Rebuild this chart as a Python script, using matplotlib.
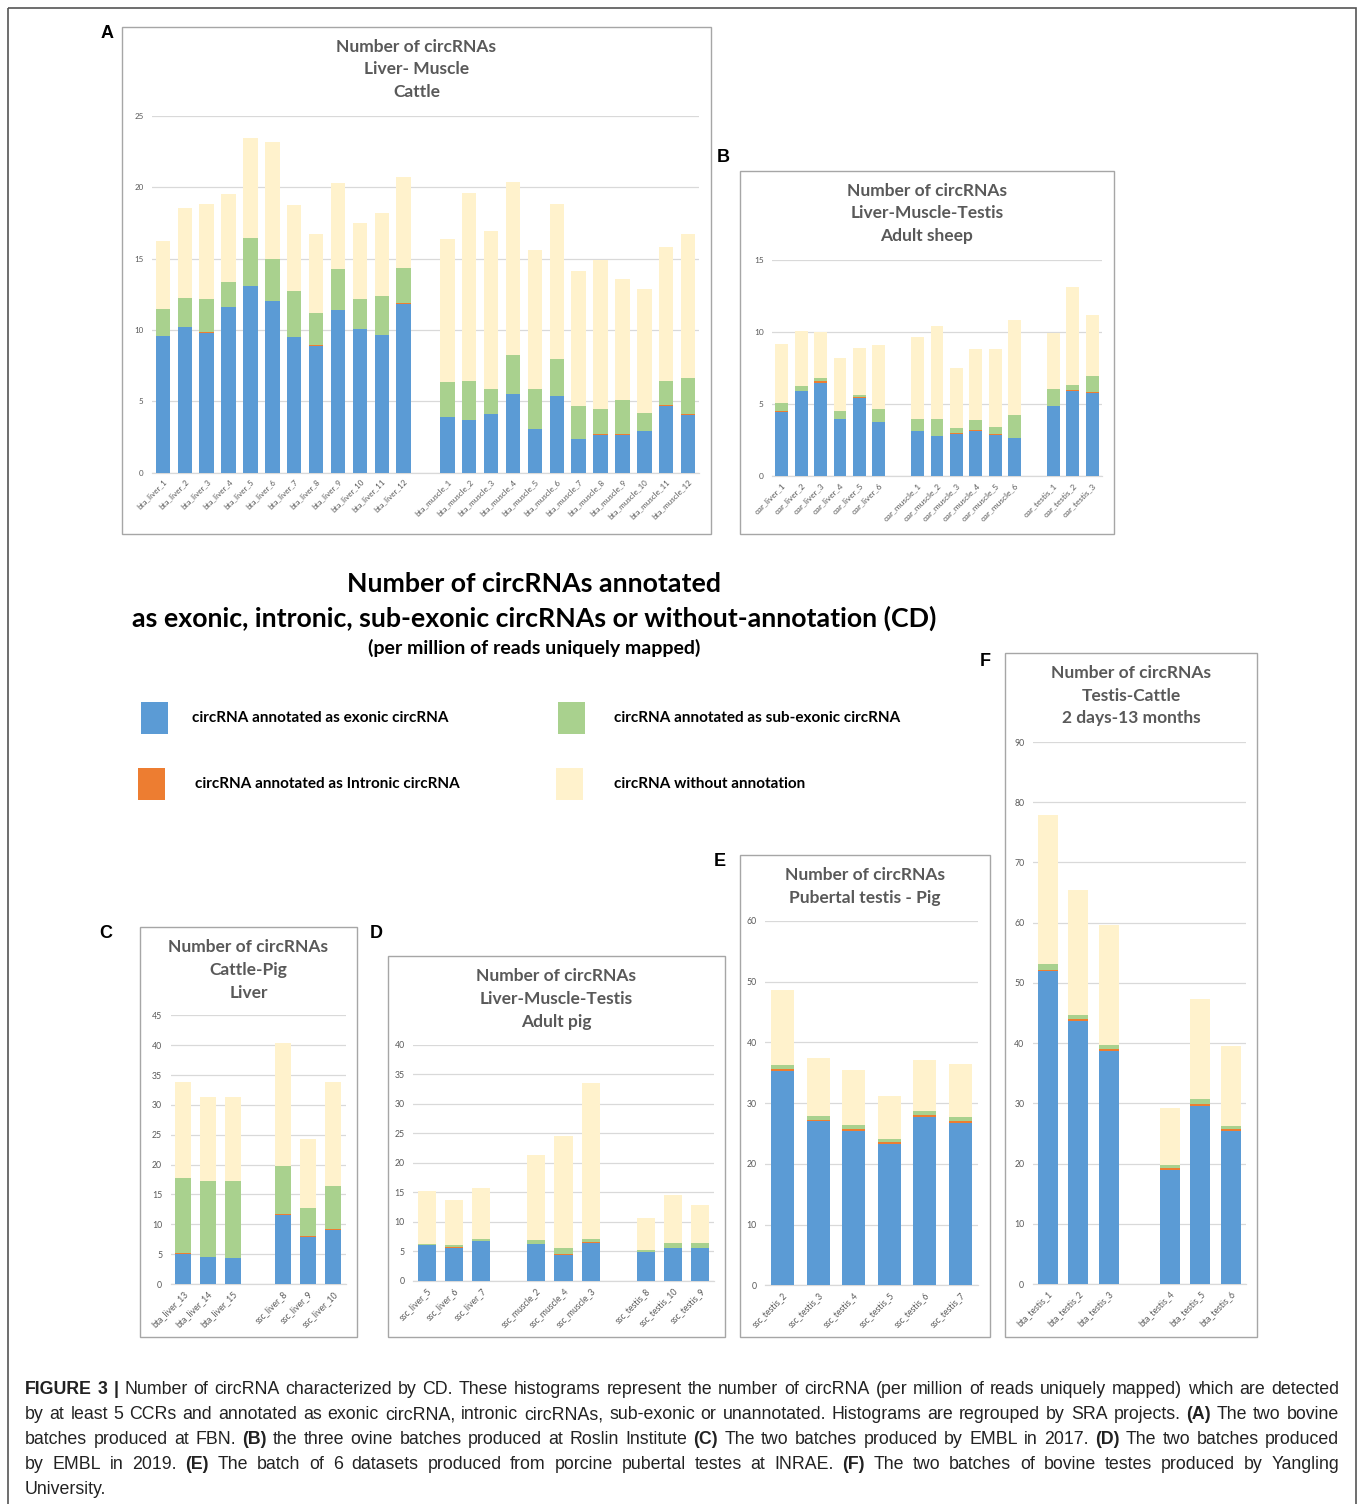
import numpy as np
import matplotlib
matplotlib.use("Agg")
import matplotlib.pyplot as plt
from matplotlib import font_manager
from matplotlib.patches import Rectangle

W, H = 1360, 1504

# Excel office theme colours
C_EXON = "#5B9BD5"
C_INTRON = "#ED7D31"
C_SUB = "#A9D18E"
C_NONE = "#FFF2CC"
GRID = "#D9D9D9"
TXT = "#595959"
SANS = ["Lato", "DejaVu Sans"]

# ---------------- data (circRNA per million uniquely mapped reads) ----------------
# A - cattle liver / muscle
a_labels = [f"bta_liver_{i}" for i in range(1, 13)] + [f"bta_muscle_{i}" for i in range(1, 13)]
a_groups = [12, 12]
a_exonic = [9.55, 10.2, 9.8, 11.6, 13.05, 12.0, 9.5, 8.9, 11.4, 10.05, 9.65, 11.8,
            3.9, 3.68, 4.12, 5.52, 3.07, 5.38, 2.35, 2.65, 2.66, 2.9, 4.65, 4.06]
a_intronic = [0.02, 0.02, 0.02, 0.02, 0.02, 0.01, 0.02, 0.02, 0.02, 0.03, 0.02, 0.06,
              0.01, 0.01, 0.01, 0.01, 0.01, 0.01, 0.01, 0.03, 0.02, 0.03, 0.05, 0.02]
a_subexonic = [1.93, 2.03, 2.33, 1.73, 3.38, 2.94, 3.23, 2.28, 2.83, 2.07, 2.68, 2.49,
               2.46, 2.75, 1.73, 2.73, 2.78, 2.59, 2.31, 1.78, 2.41, 1.22, 1.74, 2.57]
a_none = [4.75, 6.3, 6.65, 6.15, 7.0, 8.25, 6.0, 5.5, 6.05, 5.35, 5.85, 6.35,
          9.97, 13.16, 11.06, 12.12, 9.73, 10.86, 9.45, 10.43, 8.45, 8.71, 9.34, 10.09]

# B - adult sheep liver / muscle / testis
b_labels = ([f"oar_liver_{i}" for i in range(1, 7)] + [f"oar_muscle_{i}" for i in range(1, 7)]
            + [f"oar_testis_{i}" for i in range(1, 4)])
b_groups = [6, 6, 3]
b_exonic = [4.45, 5.9, 6.48, 3.96, 5.44, 3.75, 3.13, 2.76, 2.94, 3.13, 2.87, 2.62, 4.86, 5.92, 5.76]
b_intronic = [0.04, 0.03, 0.15, 0.02, 0.03, 0.02, 0.02, 0.02, 0.03, 0.04, 0.06, 0.02, 0.02, 0.02, 0.04]
b_subexonic = [0.58, 0.32, 0.17, 0.53, 0.16, 0.86, 0.83, 1.16, 0.36, 0.74, 0.47, 1.6, 1.16, 0.36, 1.14]
b_none = [4.07, 3.82, 3.22, 3.66, 3.26, 4.47, 5.7, 6.48, 4.19, 4.91, 5.44, 6.59, 3.91, 6.85, 4.24]

# C - cattle / pig liver
c_labels = ["bta_liver_13", "bta_liver_14", "bta_liver_15", "ssc_liver_8", "ssc_liver_9", "ssc_liver_10"]
c_groups = [3, 3]
c_exonic = [5.05, 4.45, 4.3, 11.5, 7.9, 9.05]
c_intronic = [0.15, 0.1, 0.1, 0.2, 0.15, 0.12]
c_subexonic = [12.5, 12.76, 12.91, 8.12, 4.62, 7.3]
c_none = [16.14, 13.96, 13.96, 20.49, 11.56, 17.31]

# D - adult pig liver / muscle / testis
d_labels = ["ssc_liver_5", "ssc_liver_6", "ssc_liver_7", "ssc_muscle_2", "ssc_muscle_4",
            "ssc_muscle_3", "ssc_testis_8", "ssc_testis_10", "ssc_testis_9"]
d_groups = [3, 3, 3]
d_exonic = [5.98, 5.6, 6.68, 6.2, 4.4, 6.35, 4.8, 5.48, 5.48]
d_intronic = [0.07, 0.15, 0.05, 0.08, 0.15, 0.2, 0.07, 0.06, 0.06]
d_subexonic = [0.23, 0.3, 0.34, 0.62, 0.94, 0.52, 0.39, 0.85, 0.85]
d_none = [8.94, 7.64, 8.71, 14.43, 19.01, 26.42, 5.38, 8.15, 6.45]

# E - pubertal pig testis
e_labels = ["ssc_testis_2", "ssc_testis_3", "ssc_testis_4", "ssc_testis_5", "ssc_testis_6", "ssc_testis_7"]
e_groups = [6]
e_exonic = [35.29, 27.0, 25.47, 23.27, 27.66, 26.67]
e_intronic = [0.27, 0.28, 0.33, 0.28, 0.33, 0.33]
e_subexonic = [0.72, 0.6, 0.65, 0.6, 0.71, 0.77]
e_none = [12.35, 9.5, 9.01, 7.02, 8.4, 8.67]

# F - cattle testis 2 days - 13 months
f_labels = ["bta_testis_1", "bta_testis_2", "bta_testis_3", "bta_testis_4", "bta_testis_5", "bta_testis_6"]
f_groups = [3, 3]
f_exonic = [51.9, 43.65, 38.62, 18.96, 29.6, 25.4]
f_intronic = [0.3, 0.32, 0.32, 0.24, 0.3, 0.3]
f_subexonic = [0.9, 0.78, 0.71, 0.53, 0.8, 0.6]
f_none = [24.8, 20.65, 19.95, 9.57, 16.6, 13.2]

legend_items = [
    ("circRNA annotated as exonic circRNA", C_EXON),
    ("circRNA annotated as sub-exonic circRNA", C_SUB),
    ("circRNA annotated as Intronic circRNA", C_INTRON),
    ("circRNA without annotation", C_NONE),
]

fig = plt.figure(figsize=(W / 100, H / 100), dpi=100)
fig.patch.set_facecolor("white")

# overlay in pixel coordinates for boxes, letters and free text
ov = fig.add_axes([0, 0, 1, 1])
ov.set_xlim(0, W)
ov.set_ylim(H, 0)
ov.axis("off")
ov.patch.set_alpha(0)

ov.add_patch(Rectangle((8, 8), 1348, 1510, fill=False, ec="#555555", lw=1.2, clip_on=False))


def px_axes(left, right, top, bottom):
    return fig.add_axes([left / W, 1 - bottom / H, (right - left) / W, (bottom - top) / H])


def panel(box, rect, letter, letter_xy, titles, title_y, labels, groups, series, ymax, ystep, fs):
    x0, y0, x1, y1 = box
    ov.add_patch(Rectangle((x0, y0), x1 - x0, y1 - y0, fill=False, ec="#A6A6A6", lw=1.0))
    ov.text(*letter_xy, letter, ha="center", va="center", fontsize=13, fontweight="bold",
            family=["Liberation Sans", "DejaVu Sans"], color="black")
    for t, ty in zip(titles, title_y):
        ov.text((x0 + x1) / 2, ty, t, ha="center", va="center", fontsize=12.5,
                fontweight="bold", family=SANS, color=TXT)

    pos = []
    x = 0
    for g in groups:
        pos.extend(range(x, x + g))
        x += g + 1
    nslots = x - 1
    pos = np.array(pos)

    ax = px_axes(*rect)
    ax.set_facecolor("none")
    bottom = np.zeros(len(pos))
    for vals, col in zip(series, [C_EXON, C_INTRON, C_SUB, C_NONE]):
        vals = np.array(vals)
        ax.bar(pos, vals, width=0.66, bottom=bottom, color=col, linewidth=0, zorder=3)
        bottom += vals
    ax.set_xlim(-0.5, nslots - 0.5)
    ax.set_ylim(0, ymax)
    ax.set_yticks(np.arange(0, ymax + 0.1, ystep))
    ax.yaxis.grid(True, color=GRID, lw=0.9, zorder=0)
    ax.set_axisbelow(True)
    for s in ["top", "right", "left"]:
        ax.spines[s].set_visible(False)
    ax.spines["bottom"].set_color(GRID)
    ax.spines["bottom"].set_linewidth(0.9)
    ax.set_xticks(pos)
    ax.set_xticklabels(labels, rotation=45, ha="right", rotation_mode="anchor")
    ax.tick_params(axis="both", length=0, labelsize=fs, colors=TXT)
    ax.tick_params(axis="x", pad=4)
    ax.tick_params(axis="y", pad=6)
    for lab in ax.get_xticklabels() + ax.get_yticklabels():
        lab.set_family(SANS)
    return ax


panel((122, 27, 711, 534), (152, 699, 116, 472.5), "A", (107, 34),
      ["Number of circRNAs", "Liver- Muscle", "Cattle"], [47, 69, 92],
      a_labels, a_groups, [a_exonic, a_intronic, a_subexonic, a_none], 25, 5, 5.8)
panel((740, 171, 1114, 534), (772, 1102, 260, 476), "B", (723, 157),
      ["Number of circRNAs", "Liver-Muscle-Testis", "Adult sheep"], [191, 213, 236],
      b_labels, b_groups, [b_exonic, b_intronic, b_subexonic, b_none], 15, 5, 6)
panel((140, 927, 357, 1337), (170.5, 345.5, 1015.3, 1284), "C", (106, 933),
      ["Number of circRNAs", "Cattle-Pig", "Liver"], [947, 970, 993],
      c_labels, c_groups, [c_exonic, c_intronic, c_subexonic, c_none], 45, 5, 6.3)
panel((388, 956, 725, 1337), (413, 714, 1045, 1280.7), "D", (376, 933),
      ["Number of circRNAs", "Liver-Muscle-Testis", "Adult pig"], [976, 999, 1022],
      d_labels, d_groups, [d_exonic, d_intronic, d_subexonic, d_none], 40, 5, 6.3)
panel((740, 855, 990, 1337), (765, 978, 921, 1285.3), "E", (720, 862),
      ["Number of circRNAs", "Pubertal testis - Pig"], [875, 898],
      e_labels, e_groups, [e_exonic, e_intronic, e_subexonic, e_none], 60, 10, 6.3)
panel((1005, 653, 1257, 1337), (1032.7, 1246, 742, 1284), "F", (985, 661),
      ["Number of circRNAs", "Testis-Cattle", "2 days-13 months"], [673, 696, 718],
      f_labels, f_groups, [f_exonic, f_intronic, f_subexonic, f_none], 90, 10, 6.3)

# central title
ov.text(534, 584, "Number of circRNAs annotated", ha="center", va="center",
        fontsize=19.3, fontweight="bold", family=SANS, color="black")
ov.text(534, 618, "as exonic, intronic, sub-exonic circRNAs or without-annotation (CD)",
        ha="center", va="center", fontsize=19.3, fontweight="bold", family=SANS, color="black")
ov.text(534, 648, "(per million of reads uniquely mapped)", ha="center", va="center",
        fontsize=14, fontweight="bold", family=SANS, color="black")

# legend
leg_pos = [((141, 702), (192, 718)), ((558, 702), (614, 718)),
           ((138, 768), (195, 784)), ((556, 768), (614, 784))]
for (label, col), ((sx, sy), (tx, ty)) in zip(legend_items, leg_pos):
    ov.add_patch(Rectangle((sx, sy), 27, 32, color=col, lw=0))
    ov.text(tx, ty, label, ha="left", va="center", fontsize=11, fontweight="bold",
            family=SANS, color="black")

# caption, justified like the journal layout
cap_lines = [
    "**FIGURE **3 **| Number of circRNA characterized by CD. These histograms represent the number of circRNA "
    "(per million of reads uniquely mapped) which are detected",
    "by at least 5 CCRs and annotated as exonic circRNA, intronic circRNAs, sub-exonic or unannotated. "
    "Histograms are regrouped by SRA projects. **(A) The two bovine",
    "batches produced at FBN. **(B) the three ovine batches produced at Roslin Institute **(C) The two batches "
    "produced by EMBL in 2017. **(D) The two batches produced",
    "by EMBL in 2019. **(E) The batch of 6 datasets produced from porcine pubertal testes at INRAE. **(F) "
    "The two batches of bovine testes produced by Yangling",
    "University.",
]
try:
    font_manager.findfont(font_manager.FontProperties(family="Liberation Sans Narrow"),
                          fallback_to_default=False)
    cap_family = ["Liberation Sans Narrow", "DejaVu Sans"]
except Exception:
    cap_family = ["Liberation Sans", "DejaVu Sans"]

renderer = fig.canvas.get_renderer()


def words_of(line):
    out = []
    for w in line.split(" "):
        if w.startswith("**"):
            out.append((w[2:], "bold"))
        else:
            out.append((w, "normal"))
    return [o for o in out if o[0]]


def word_width(word, weight, size):
    t = ov.text(0, 0, word, fontsize=size, fontweight=weight, family=cap_family)
    wdt = t.get_window_extent(renderer).width
    t.remove()
    return wdt


# size the caption so the first line fills the text block naturally
probe = words_of(cap_lines[0])
sp10 = word_width("a a", "normal", 10) - 2 * word_width("a", "normal", 10)
nat10 = sum(word_width(w, wt, 10) for w, wt in probe) + sp10 * (len(probe) - 1)
cap_size = 10 * 1300 / nat10

x_left, x_right = 25, 1339
for i, line in enumerate(cap_lines):
    y = 1394 + 25 * i
    ws = words_of(line)
    widths = [word_width(w, wt, cap_size) for w, wt in ws]
    if i < len(cap_lines) - 1:
        gap = (x_right - x_left - sum(widths)) / (len(ws) - 1)
    else:
        gap = word_width("a a", "normal", cap_size) - 2 * word_width("a", "normal", cap_size)
    x = x_left
    for (w, wt), wd in zip(ws, widths):
        ov.text(x, y, w, ha="left", va="baseline", fontsize=cap_size, fontweight=wt,
                family=cap_family, color="#222222")
        x += wd + gap

fig.savefig("out.png", dpi=100, facecolor="white")
